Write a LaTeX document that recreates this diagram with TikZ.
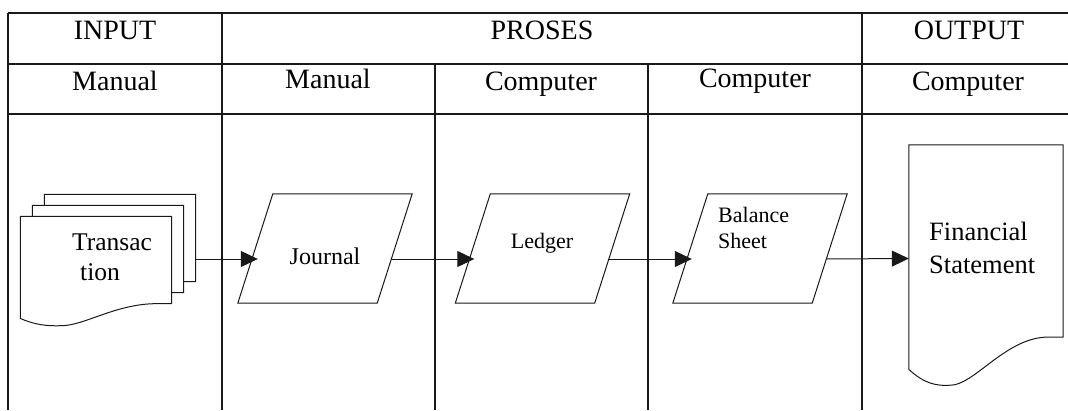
\documentclass[tikz,border=0pt]{standalone}
\usepackage{fontspec}
\setmainfont{Liberation Serif}
\newfontfamily\tnr{Liberation Serif}
\usetikzlibrary{arrows.meta,calc}

\tikzset{
  grid/.style={line width=1.1pt, black!90},
  shapeline/.style={line width=1pt, black!90},
  head/.style={font=\tnr\fontsize{28}{30}\selectfont, anchor=base, inner sep=0pt},
  txt/.style={inner sep=0pt, anchor=base},
  box/.style={rectangle, inner sep=0pt, minimum width=#1},
  flow/.style={line width=1pt, black!90, -{Triangle[length=17pt,width=16pt]}},
}

% outline of a document symbol: box with a wavy lower edge
\newcommand\docoutline[2]{%
  \draw[shapeline, fill=white]
    let \p1=(#1.north west), \p2=(#1.south east), \n1={\x2-\x1}, \n2={#2} in
    (\p2) -- (\x2,\y1) -- (\p1) -- ({\x1},{\y2-0.67*\n2})
    .. controls ({\x1+0.10*\n1},{\y2-0.97*\n2}) and ({\x1+0.18*\n1},{\y2-1.02*\n2})
    .. ({\x1+0.27*\n1},{\y2-\n2})
    .. controls ({\x1+0.42*\n1},{\y2-1.0*\n2}) and ({\x1+0.62*\n1},{\y2-0.05*\n2})
    .. ({\x2-0.12*\n1},{\y2}) -- cycle;}

% outline of a data (input/output) symbol: a parallelogram leaning right
\newcommand\iooutline[1]{%
  \draw[shapeline, fill=white]
    ([xshift=35pt]#1.north west) -- (#1.north east)
    -- ([xshift=-35pt]#1.south east) -- (#1.south west) -- cycle;}

\begin{document}
\begin{tikzpicture}[x=1pt,y=-1pt]
\useasboundingbox (0,0) rectangle (1068,410);

% table frame
\draw[grid] (8,13) -- (1068,13);
\draw[grid] (8,64) -- (1068,64);
\draw[grid] (8,114) -- (1068,114);
\draw[grid] (8,13) -- (8,410);
\draw[grid] (222,13) -- (222,410);
\draw[grid] (435,64) -- (435,410);
\draw[grid] (648,64) -- (648,410);
\draw[grid] (862,13) -- (862,410);

% header rows
\node[head] (hin) at (115,39) {INPUT};
\node[head] (hpro) at (542,39) {PROSES};
\node[head] (hout) at (969,39) {OUTPUT};
\node[head] (m1) at (115,90) {Manual};
\node[head] (m2) at (328,88) {Manual};
\node[head] (c1) at (541,90) {Computer};
\node[head] (c2) at (755,87) {Computer};
\node[head] (c3) at (968,90) {Computer};

% stacked transaction documents
\node[box=151pt, minimum height=87pt] (stack3) at (120,238) {};
\node[box=151pt, minimum height=87pt] (stack2) at (108,249) {};
\node[box=151pt, minimum height=87pt] (stack1) at (96,260) {};
\docoutline{stack3}{22}
\docoutline{stack2}{22}
\docoutline{stack1}{22}
\node[txt, anchor=base west, font=\tnr\fontsize{25.5}{28}\selectfont] (tr1) at (72,250) {Transac};
\node[txt, anchor=base west, font=\tnr\fontsize{25.5}{28}\selectfont] (tr2) at (80,280) {tion};

% processing steps
\node[box=174pt, minimum height=109pt] (journal) at (325,248.5) {};
\node[box=174pt, minimum height=109pt] (ledger) at (542.5,248.5) {};
\node[box=174pt, minimum height=109pt] (balance) at (760,248.5) {};
\iooutline{journal}
\iooutline{ledger}
\iooutline{balance}
\node[txt, font=\tnr\fontsize{24}{26}\selectfont] (tj) at (325,264) {Journal};
\node[txt, font=\tnr\fontsize{22}{24}\selectfont] (tl) at (542,248) {Ledger};
\node[txt, anchor=base west, font=\tnr\fontsize{22}{24}\selectfont] (tb1) at (718,222) {Balance};
\node[txt, anchor=base west, font=\tnr\fontsize{22}{24}\selectfont] (tb2) at (718,248) {Sheet};

% financial statement document
\node[box=154pt, minimum height=192pt] (fs) at (986,241) {};
\docoutline{fs}{48}
\node[txt, anchor=base west, font=\tnr\fontsize{26.5}{29}\selectfont] (tf1) at (929,240) {Financial};
\node[txt, anchor=base west, font=\tnr\fontsize{26.5}{29}\selectfont] (tf2) at (929,273) {Statement};

% flow arrows
\draw[flow] ([yshift=-21pt]stack3.east) -- ([xshift=20pt,yshift=-10.5pt]journal.west);
\draw[flow] ([xshift=-21pt,yshift=-10.5pt]journal.east) -- ([xshift=19pt,yshift=-10.5pt]ledger.west);
\draw[flow] ([xshift=-21pt,yshift=-10.5pt]ledger.east) -- ([xshift=19pt,yshift=-10.5pt]balance.west);
\draw[flow] ([xshift=-21pt,yshift=-10.5pt]balance.east) -- ([yshift=-17.5pt]fs.west);
\end{tikzpicture}
\end{document}
